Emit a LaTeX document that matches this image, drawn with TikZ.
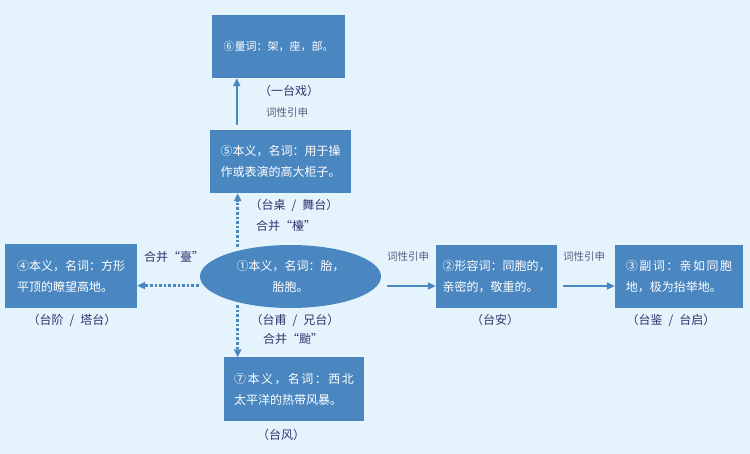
\documentclass[tikz,border=0pt]{standalone}
\usepackage{fontspec}
\setmainfont{Noto Sans CJK SC}
\usetikzlibrary{arrows.meta,shapes.geometric}
\definecolor{bgblue}{RGB}{229,243,253}
\definecolor{boxblue}{RGB}{74,134,192}
\definecolor{labink}{RGB}{48,54,110}
\definecolor{tagink}{RGB}{90,90,125}
\begin{document}
\begin{tikzpicture}[x=1pt, y=-1pt, font=\fontsize{12}{21}\selectfont, line join=round, >={Triangle[length=8pt,width=7pt]},
	box/.style={fill=boxblue, text=white, align=left, inner sep=0pt},
	oval/.style={ellipse, fill=boxblue, text=white, align=center, inner sep=0pt, minimum width=181, minimum height=63},
	lbl/.style={text=labink, inner sep=1pt},
	tag/.style={text=tagink, font=\fontsize{10.5}{12}\selectfont, inner sep=1pt},
	solidarr/.style={->, draw=boxblue, line width=1.8pt},
	dotarr/.style={->, draw=boxblue, line width=2.6pt, dotted}]
	\fill[bgblue] (0,0) rectangle (750,454);
	\useasboundingbox (0,0) rectangle (750,454);
	% boxes
	\node[box, minimum width=133, minimum height=63, font=\fontsize{11}{21}\selectfont] (liang) at (278.5,46.5) {⑥量词：架，座，部。};
	\node[box, minimum width=141, minimum height=63] (benzhuo) at (280.5,161.5) {⑤本义，名词：用于操\\作或表演的高大柜子。};
	\node[oval] (tai) at (290.5,276.5) {①本义，名词：胎，\\胎胞。};
	\node[box, minimum width=132, minimum height=64] (jie) at (71,276) {④本义，名词：方形\\平顶的瞭望高地。};
	\node[box, minimum width=121, minimum height=63] (an) at (496.5,276.5) {②形容词：同胞的，\\亲密的，敬重的。};
	\node[box, minimum width=128, minimum height=63] (jian) at (679,276.5) {{\addfontfeature{LetterSpace=12}③副词：亲如同胞}\\地，极为抬举地。};
	\node[box, minimum width=140, minimum height=63] (feng) at (294,389) {{\addfontfeature{LetterSpace=12}⑦本义，名词：西北}\\太平洋的热带风暴。};
	% labels
	\node[lbl] (yitai) at (289,91) {（一台戏）};
	\node[tag] (yin1) at (287,113) {词性引申};
	\node[lbl] (wutai) at (294,205) {（台桌\enspace{}/\enspace{}舞台）};
	\node[lbl] (he1) at (286,226) {合并“檯”};
	\node[lbl] (he2) at (174,257) {合并“臺”};
	\node[lbl] (tajie) at (72,320) {（台阶\enspace{}/\enspace{}塔台）};
	\node[lbl] (xiong) at (295,320) {（台甫\enspace{}/\enspace{}兄台）};
	\node[lbl] (he3) at (293,339) {合并“颱”};
	\node[lbl] (fengl) at (281,435) {（台风）};
	\node[tag] (yin2) at (408,257) {词性引申};
	\node[tag] (yin3) at (584,257) {词性引申};
	\node[lbl] (anl) at (495,320) {（台安）};
	\node[lbl] (qi) at (671,320) {（台鉴\enspace{}/\enspace{}台启）};
	% connectors
	\coordinate (upfoot) at ([xshift=27pt,yshift=5pt]benzhuo.north west);
	\draw[solidarr] (upfoot) -- (upfoot |- liang.south);
	\coordinate (dotup) at ([yshift=4pt]tai.154);
	\draw[dotarr] (dotup) -- (dotup |- benzhuo.south);
	\coordinate (dotdown) at ([yshift=-3pt]tai.206);
	\draw[dotarr] (dotdown) -- (dotdown |- feng.north);
	\coordinate (dotleft) at ([xshift=-5pt]tai.186);
	\draw[dotarr] (dotleft) -- (dotleft -| jie.east);
	\coordinate (rfoot) at ([xshift=10pt,yshift=-0.4pt]tai.354);
	\draw[solidarr] (rfoot) -- (rfoot -| an.west);
	\coordinate (r2foot) at ([xshift=6pt,yshift=-9.5pt]an.east);
	\draw[solidarr] (r2foot) -- (r2foot -| jian.west);
\end{tikzpicture}
\end{document}
